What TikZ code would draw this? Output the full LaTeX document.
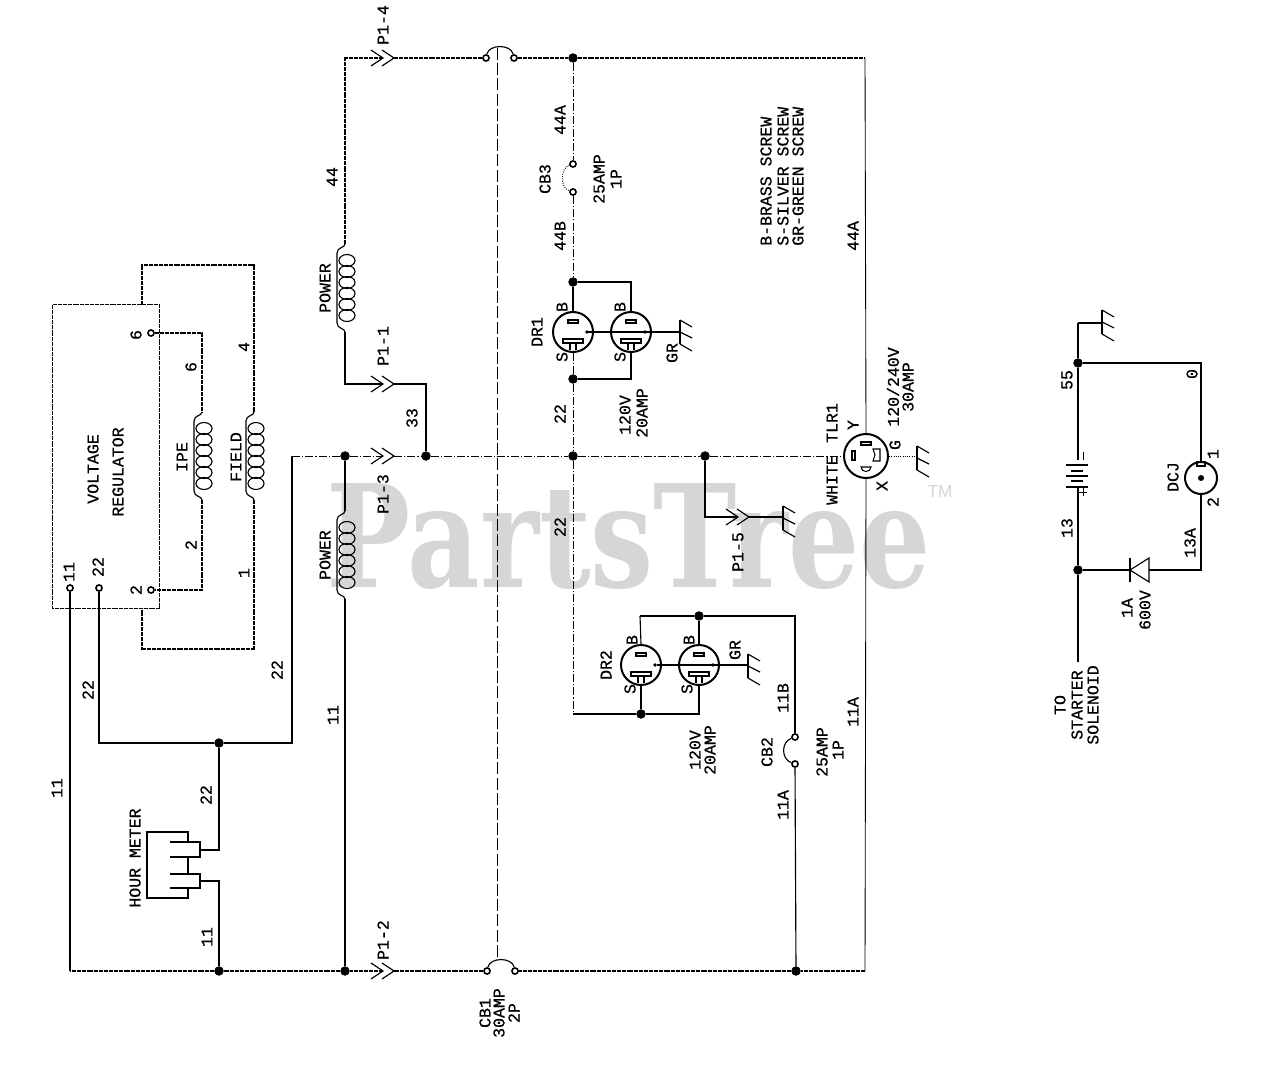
\documentclass[tikz,border=0pt]{standalone}
\usepackage{fontspec}
\setmainfont{Liberation Mono}[FakeBold=0.6]
\newfontfamily\wmfont{DejaVu Serif}
\newfontfamily\tmfont{Liberation Sans}
\newcount\lblc
\newcommand\lbl[3]{\global\advance\lblc by 1 \node[lab] (lbl\the\lblc) at (#1,#2) {#3};}
\newcommand\lblw[3]{\global\advance\lblc by 1 \node[lab,anchor=west] (lbl\the\lblc) at (#1,#2) {#3};}
\newcommand\gnd[2]{%
  \draw[gnds] (#1,#2-12) -- (#1,#2+12);
  \draw[gnds] (#1,#2-12) -- ++(12,7);
  \draw[gnds] (#1,#2) -- ++(12,6);
  \draw[gnds] (#1,#2+12) -- ++(12,7);}
\newcommand\coil[2]{%
  \draw[wire] (#1,#2-11) .. controls (#1,#2-7) and (#1-8,#2-8) .. (#1-8,#2-2) -- (#1-8,#2+68)
    .. controls (#1-8,#2+74) and (#1,#2+73) .. (#1,#2+77);
  \foreach \k in {0,...,5} \draw[coilw] ({#1+2},{#2+5.5+11*\k}) ellipse (8 and 6);}
\newcommand\chev[2]{%
  \draw[chevs] (#1-12,#2-8) -- (#1,#2) -- (#1-12,#2+8);
  \draw[chevs] (#1-1,#2-8) -- (#1+11,#2) -- (#1-1,#2+8);}
\newcommand\slotsB[2]{%
  \draw[slot] (#1-5,#2-12) rectangle (#1+5,#2-9);
  \draw[slot] (#1-10,#2+7) rectangle (#1+10,#2+11);
  \draw[slot] (#1-3,#2+11) -- (#1-3,#2+18);
  \draw[slot] (#1+3,#2+11) -- (#1+3,#2+18);
  \fill (#1+14,#2) circle (1.8);}
\tikzset{
  x=0.75pt,y=-0.75pt,
  wire/.style={line width=0.85pt,black},
  thinw/.style={line width=0.65pt,black},
  dwire/.style={line width=0.85pt,black,dash pattern=on 1.5pt off 0.35pt},
  dashw/.style={line width=0.6pt,black,dash pattern=on 6pt off 1.6pt on 0.8pt off 1.6pt},
  longd/.style={line width=0.55pt,black,dash pattern=on 9pt off 2.4pt},
  coilw/.style={line width=0.85pt,black},
  gnds/.style={line width=0.85pt,black},
  chevs/.style={line width=0.85pt,black},
  slot/.style={line width=0.8pt,black},
  jn/.style={circle,fill=black,draw=black,line width=0.4pt,inner sep=0pt,minimum size=6.6pt},
  term/.style={circle,fill=white,draw=black,line width=1.2pt,inner sep=0pt,minimum size=4.6pt},
  outlet/.style={circle,draw=black,line width=1.5pt,inner sep=0pt,minimum size=30pt},
  lab/.style={rotate=90,inner sep=0pt,font=\fontsize{12.4pt}{12.4pt}\selectfont,black},
  regbox/.style={draw=black,dwire,inner sep=0pt,minimum width=80.5pt,minimum height=227.5pt},
}
\begin{document}
\begin{tikzpicture}
\useasboundingbox (0,0) rectangle (1280,1069);
% watermark
\node[inner sep=0pt,anchor=base west,text=black!16,font=\wmfont\bfseries\fontsize{107pt}{107pt}\selectfont,xscale=0.785] (wm) at (326,587) {PartsTree};
\node[inner sep=0pt,text=black!16,font=\tmfont\fontsize{13pt}{13pt}\selectfont] (tm) at (940,492) {TM};

% junctions
\foreach \n/\x/\y in {jTop/573/58,jA/573/282,jB/573/379,jM/573/456,jW/705/456,jQ/426/456,jP/345/456,jH/219/743,jBb/345/971,jBh/219/971,jBc/796/971,jT/699/616,jD/641/714,jS/1078/363,jK/1078/570}
  \node[jn] (\n) at (\x,\y) {};
% terminals
\foreach \n/\x/\y in {t6/151/333,t2/151/590,t11/70/588,t22/99/588,bTa/486/58,bTb/514/58,bBa/487/971,bBb/515/971,cb3a/573/164,cb3b/573/192,cb2a/795/737,cb2b/795/764}
  \node[term] (\n) at (\x,\y) {};
% corners
\foreach \n/\x/\y in {cTL/345/58,cTR/865/58,cBR/865/971,cBL/70/971,p14a/383/58,p14b/394/58,p11a/383/384,p11b/394/384,p13a/383/456,p13b/394/456,p12a/383/971,p12b/394/971,p15a/738/517,p15b/749/517,cP1t/345/244,cP1b/345/332,cP2t/345/511,cP2b/345/599,c11c/345/384,cQ/426/384,cW/705/517,cG15/783/517,c292a/292/743,c292b/292/456,c22c/99/743,cIt/202/412,cIb/202/500,cFt/254/412,cFb/254/500,c6r/202/333,c2r/202/590,cFa/142/265,cFb2/254/265,cFc/254/649,cFd/142/649,cFe/142/305,cFf/142/608,cDa/631/282,cDb/631/379,cDc/640/616,cDd/795/616,cDe/573/714,cDf/699/714,cBat1/1078/460,cBat2/1078/487,cS1/1078/323,cEnd/1078/662,cR1/1201/363,cR2/1201/570,cDi1/1149/570,cDi2/1130/570}
  \coordinate (\n) at (\x,\y);

% regulator
\node[regbox] (reg) at (106,456.5) {};
% outlets
\node[outlet] (dr1a) at (573,332) {};
\node[outlet] (dr1b) at (631,332) {};
\node[outlet] (dr2a) at (641,665) {};
\node[outlet] (dr2b) at (699,665) {};
\node[outlet,minimum size=33pt] (tlr) at (866,456) {};
\node[circle,draw=black,line width=1.5pt,inner sep=0pt,minimum size=24pt] (dcj) at (1201,478) {};
\fill (1201,478) circle (3);
\draw[slot] (1197,462) rectangle (1205,466);

\slotsB{573}{332}
\slotsB{631}{332}
\slotsB{641}{665}
\slotsB{699}{665}
% TLR slots
\draw[slot] (861,442) rectangle (871,445);
\draw[slot] (873,449) -- (880,449) -- (880,461) -- (873,461) -- (875,455) -- cycle;
\draw[slot] (852,451) rectangle (855,460);
\draw[slot] (861,467) .. controls (861,473) and (871,473) .. (871,467) -- cycle;

% main wires
\draw[dwire] (cP1t) -- (cTL) -- (p14a);
\draw[dwire] (p14b) -- (bTa);
\draw[dwire] (bTb) -- (jTop) -- (cTR);
\draw[thinw] (cTR) -- (tlr.north);
\draw[thinw] (tlr.south) -- (cBR);
\draw[dwire] (cBR) -- (jBc) -- (bBb);
\draw[dwire] (bBa) -- (p12b);
\draw[dwire] (p12a) -- (jBb) -- (jBh) -- (cBL);
\draw[wire] (cBL) -- (t11);
\draw[wire] (cP1b) -- (c11c) -- (p11a);
\draw[wire] (p11b) -- (cQ) -- (jQ);
\draw[dashw] (c292b) -- (jP) -- (p13a);
\draw[dashw] (p13b) -- (jQ) -- (jM) -- (jW) -- (tlr.west);
\draw[wire] (t22) -- (c22c) -- (jH) -- (c292a) -- (c292b);
\draw[wire] (jP) -- (cP2t);
\draw[wire] (cP2b) -- (jBb);
\draw[wire] (jH) -- (219,850) -- (200,850);
\draw[wire] (jBh) -- (219,881) -- (200,881);
% breaker arcs
\draw[wire] (bTa) .. controls (489,44) and (511,44) .. (bTb);
\draw[wire] (bBa) .. controls (490,957) and (512,957) .. (bBb);
\draw[longd] (497,48) -- (497,960);
% regulator wires
\draw[dwire] (t6) -- (c6r) -- (cIt);
\draw[dwire] (cIb) -- (c2r) -- (t2);
\draw[dwire] (cFe) -- (cFa) -- (cFb2) -- (cFt);
\draw[dwire] (cFb) -- (cFc) -- (cFd) -- (cFf);
% coils
\coil{345}{255}
\coil{345}{522}
\coil{202}{423}
\coil{254}{423}
% chevrons
\chev{383}{58}
\chev{383}{384}
\chev{383}{456}
\chev{383}{971}
\chev{738}{517}
% CB3, DR1
\draw[dashw] (jTop) -- (cb3a);
\draw[dashw] (cb3b) -- (jA);
\draw[line width=0.7pt,black,densely dotted] (cb3a) .. controls (560,168) and (560,188) .. (cb3b);
\draw[wire] (jA) -- (dr1a.north);
\draw[wire] (jA) -- (cDa) -- (dr1b.north);
\draw[dashw] (dr1a.south) -- (jB);
\draw[wire] (jB) -- (cDb) -- (dr1b.south);
\draw[dashw] (jB) -- (jM);
\draw[dashw] (jM) -- (cDe);
\draw[wire] (587,332) -- (680,332);
\gnd{680}{332}
% DR2
\draw[wire] (cDe) -- (jD) -- (cDf) -- (dr2b.south);
\draw[wire] (jD) -- (dr2a.south);
\draw[wire] (cDc) -- (jT) -- (cDd) -- (cb2a);
\draw[wire] (cDc) -- (dr2a.north);
\draw[wire] (jT) -- (dr2b.north);
\draw[wire] (657,665) -- (748,665);
\gnd{748}{666}
\draw[wire] (cb2a) .. controls (781,742) and (781,759) .. (cb2b);
\draw[wire] (cb2b) -- (jBc);
% P1-5
\draw[wire] (jW) -- (cW) -- (p15a);
\draw[wire] (p15b) -- (cG15);
\gnd{783}{518}
% TLR ground
\draw[line width=0.7pt,black,densely dotted] (tlr.east) -- (917,456);
\gnd{917}{458}
% hour meter
\draw[wire] (188,842) -- (188,832) -- (147,832) -- (147,898) -- (188,898) -- (188,888);
\draw[wire] (188,857) -- (188,874);
\draw[wire] (170,842) -- (200,842) -- (200,857) -- (170,857);
\draw[wire] (170,874) -- (200,874) -- (200,888) -- (170,888);
% right circuit
\draw[wire] (cS1) -- (jS);
\draw[wire] (cS1) -- (1102,323);
\gnd{1102}{322}
\draw[wire] (jS) -- (cBat1);
\draw[wire] (cBat2) -- (jK);
\draw[wire] (jK) -- (cEnd);
\draw[wire] (1066,465) -- (1088,465);
\draw[wire] (1071,471) -- (1083,471);
\draw[wire] (1066,476) -- (1088,476);
\draw[wire] (1071,481) -- (1083,481);
\draw[wire] (1066,487) -- (1088,487);
\draw[line width=0.6pt,black] (1083,452) -- (1083,460);
\draw[line width=0.6pt,black] (1083,488) -- (1083,496) (1079,492) -- (1087,492);
\draw[wire] (jS) -- (cR1) -- (dcj.north);
\draw[wire] (dcj.south) -- (cR2) -- (cDi1);
\draw[wire] (cDi2) -- (jK);
\draw[wire] (1149,558) -- (1149,582) -- (1130,570) -- cycle;
\draw[wire] (1130,558) -- (1130,582);

% labels
\lbl{383}{25}{P1-4}
\lbl{332}{177}{44}
\lbl{325}{288}{POWER}
\lbl{383}{346}{P1-1}
\lbl{412}{418}{33}
\lbl{383}{494}{P1-3}
\lbl{325}{555}{POWER}
\lbl{333}{715}{11}
\lbl{277}{670}{22}
\lbl{88}{690}{22}
\lbl{57}{788}{11}
\lbl{206}{795}{22}
\lbl{207}{937}{11}
\lbl{135}{858}{HOUR METER}
\lbl{383}{940}{P1-2}
\lbl{485}{1013}{CB1}
\lbl{499}{1013}{30AMP}
\lbl{514}{1013}{2P}
\lbl{93}{469}{VOLTAGE}
\lbl{118}{472}{REGULATOR}
\lbl{69}{572}{11}
\lbl{98}{567}{22}
\lbl{136}{335}{6}
\lbl{136}{590}{2}
\lbl{191}{367}{6}
\lbl{191}{545}{2}
\lbl{182}{457}{IPE}
\lbl{236}{457}{FIELD}
\lbl{244}{347}{4}
\lbl{244}{573}{1}
\lbl{562}{307}{B}
\lbl{620}{307}{B}
\lbl{562}{357}{S}
\lbl{620}{357}{S}
\lbl{537}{332}{DR1}
\lbl{672}{353}{GR}
\lbl{625}{415}{120V}
\lbl{642}{413}{20AMP}
\lbl{560}{414}{22}
\lbl{560}{527}{22}
\lbl{832}{480}{WHITE}
\lbl{832}{423}{TLR1}
\lbl{853}{425}{Y}
\lbl{882}{486}{X}
\lbl{895}{445}{G}
\lbl{893}{387}{120/240V}
\lbl{908}{387}{30AMP}
\lbl{738}{552}{P1-5}
\lbl{632}{640}{B}
\lbl{689}{640}{B}
\lbl{630}{689}{S}
\lbl{687}{689}{S}
\lbl{606}{665}{DR2}
\lbl{735}{650}{GR}
\lbl{695}{750}{120V}
\lbl{710}{750}{20AMP}
\lbl{767}{752}{CB2}
\lbl{783}{698}{11B}
\lbl{822}{752}{25AMP}
\lbl{838}{750}{1P}
\lbl{783}{805}{11A}
\lbl{853}{712}{11A}
\lbl{560}{120}{44A}
\lbl{560}{236}{44B}
\lbl{545}{179}{CB3}
\lbl{599}{179}{25AMP}
\lbl{616}{179}{1P}
\lblw{766}{246}{B-BRASS SCREW}
\lblw{783}{246}{S-SILVER SCREW}
\lblw{798}{246}{GR-GREEN SCREW}
\lbl{853}{236}{44A}
\lbl{1067}{380}{55}
\lbl{1192}{374}{0}
\lbl{1067}{528}{13}
\lbl{1190}{543}{13A}
\lbl{1173}{477}{DCJ}
\lbl{1213}{454}{1}
\lbl{1213}{502}{2}
\lbl{1127}{608}{1A}
\lbl{1145}{610}{600V}
\lbl{1060}{705}{TO}
\lbl{1077}{705}{STARTER}
\lbl{1093}{705}{SOLENOID}
\end{tikzpicture}
\end{document}
